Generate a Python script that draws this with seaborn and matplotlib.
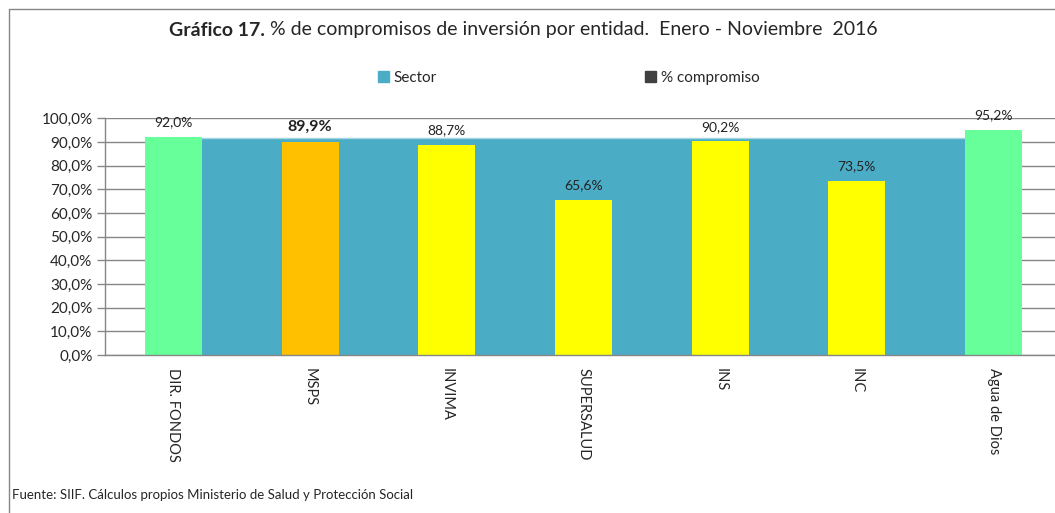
import matplotlib
matplotlib.use("Agg")
import matplotlib.pyplot as plt
import matplotlib.patches as mpatches
import matplotlib.lines as mlines
import seaborn as sns
import pandas as pd

entities = ["DIR. FONDOS", "MSPS", "INVIMA", "SUPERSALUD", "INS", "INC", "Agua de Dios"]
compromiso = [92.0, 89.9, 88.7, 65.6, 90.2, 73.5, 95.2]
sector = 91.5
bar_colors = ["#66FF99", "#FFC000", "#FFFF00", "#FFFF00", "#FFFF00", "#FFFF00", "#66FF99"]
yticks = [0, 10, 20, 30, 40, 50, 60, 70, 80, 90, 100]
title_bold = "Gráfico 17."
title_rest = " % de compromisos de inversión por entidad.  Enero - Noviembre  2016"
legend_labels = ["Sector", "% compromiso"]
footer = "Fuente: SIIF. Cálculos propios Ministerio de Salud y Protección Social"

sns.set_style("white")
plt.rcParams["font.family"] = ["Lato", "DejaVu Sans"]

W, H = 1055, 513
fig = plt.figure(figsize=(W / 100, H / 100), dpi=100)
ax = fig.add_axes([105 / W, 1 - 355 / H, (1062 - 105) / W, (355 - 118.3) / H])

df = pd.DataFrame({"entidad": entities, "valor": compromiso})
# sector area (from first to last category centre)
ax.fill_between(range(len(entities)), [sector] * len(entities), 0,
                color="#4BACC6", zorder=1, linewidth=0)
ax.plot(range(len(entities)), [sector] * len(entities), color="#A5D5E2", lw=1, zorder=1.1)

sns.barplot(data=df, x="entidad", y="valor", hue="entidad", palette=bar_colors,
            width=0.417, saturation=1, legend=False, ax=ax, zorder=2, linewidth=0)
for p in ax.patches:
    p.set_zorder(2)
    p.set_linewidth(0)

ax.set_xlim(-0.5, len(entities) - 0.5)
ax.set_ylim(0, 100)
ax.set_yticks(yticks)
ax.set_yticklabels([f"{v:.1f}%".replace(".", ",") for v in yticks], fontsize=11)
ax.set_xticks(range(len(entities)))
ax.set_xticklabels(entities, rotation=-90, fontsize=10.5, va="top")
ax.tick_params(axis="x", length=0, pad=9)
ax.set_xticks([k - 0.5 for k in range(len(entities) + 1)], minor=True)
ax.tick_params(axis="x", which="minor", length=5, color="#868686", width=1, direction="out")
ax.tick_params(axis="y", length=6, color="#868686", width=1, direction="out", pad=3, left=True)
ax.set_xlabel("")
ax.set_ylabel("")
ax.yaxis.grid(True, color="#868686", lw=1)
ax.set_axisbelow(True)
for s in ["top", "right"]:
    ax.spines[s].set_visible(False)
for s in ["left", "bottom"]:
    ax.spines[s].set_color("#868686")
    ax.spines[s].set_linewidth(1)

for i, v in enumerate(compromiso):
    lab = f"{v:.1f}%".replace(".", ",")
    if entities[i] == "MSPS":
        ax.annotate(lab, (i, v), xytext=(0, 11), textcoords="offset points",
                    ha="center", va="center", fontsize=11.5, fontweight="bold", color="#222222")
    else:
        ax.annotate(lab, (i, v), xytext=(0, 10.5), textcoords="offset points",
                    ha="center", va="center", fontsize=10, color="#222222")

# title
fig.canvas.draw()
r = fig.canvas.get_renderer()
t1 = fig.text(0, 1 - 30 / H, title_bold, fontsize=14, fontweight="bold", va="center")
t2 = fig.text(0, 1 - 30 / H, title_rest, fontsize=14, va="center")
w1 = t1.get_window_extent(r).width
w2 = t2.get_window_extent(r).width
x0 = 523 - (w1 + w2) / 2
t1.set_x(x0 / W)
t2.set_x((x0 + w1) / W)

handles = [mpatches.Patch(color="#4BACC6"), mpatches.Patch(color="#404040")]
fig.legend(handles, legend_labels, loc="center left", bbox_to_anchor=(364 / W, 1 - 78 / H),
           ncol=2, frameon=False, fontsize=11, handlelength=0.75, handleheight=0.75,
           handletextpad=0.3, columnspacing=13.6)

fig.text(12 / W, 1 - 495 / H, footer, fontsize=9.5, va="center")

fig.add_artist(mlines.Line2D([8.5 / W, 8.5 / W], [0, 1 - 8.5 / H], color="#868686", lw=1))
fig.add_artist(mlines.Line2D([8.5 / W, 1], [1 - 8.5 / H, 1 - 8.5 / H], color="#868686", lw=1))

fig.savefig("out.png", dpi=100)
